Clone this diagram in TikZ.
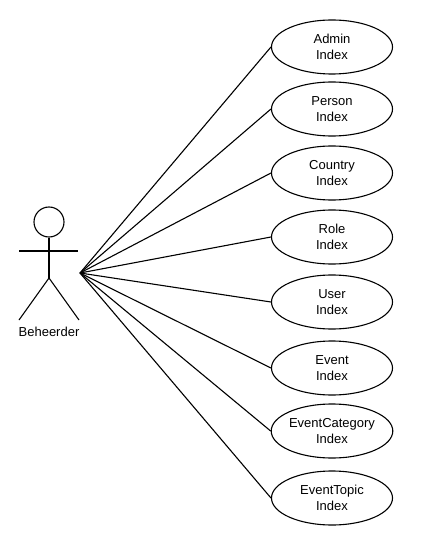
\documentclass[tikz,border=0pt]{standalone}
\usepackage{fontspec}
\setmainfont{Liberation Sans}
\usetikzlibrary{shapes.geometric}
\begin{document}
\begin{tikzpicture}[x=1pt,y=-1pt,
  usecase/.style={draw,ellipse,line width=1.1pt,minimum width=121pt,minimum height=54pt,inner sep=0pt,align=center,font=\fontsize{13}{16.5}\selectfont},
  stick/.style={line width=1.1pt},
  conn/.style={line width=1.1pt}]
\useasboundingbox (0,0) rectangle (430,545);
% actor
\node[draw,circle,stick,minimum size=30pt,inner sep=0pt] (head) at (49,222) {};
\coordinate (hip) at (49,278);
\coordinate (larm) at (19,251);
\coordinate (rarm) at (78,251);
\coordinate (lfoot) at (19,320);
\coordinate (rfoot) at (79,320);
\draw[stick] (head.south) -- (hip);
\draw[stick] (larm) -- (rarm);
\draw[stick] (lfoot) -- (hip) -- (rfoot);
\node[font=\fontsize{13}{16}\selectfont,inner sep=0pt] (lbl) at (49,332) {Beheerder};
\coordinate (hub) at (80,273);
% use cases
\node[usecase] (u1) at (332,47) {Admin\\Index};
\node[usecase] (u2) at (332,109) {Person\\Index};
\node[usecase] (u3) at (332,173) {Country\\Index};
\node[usecase] (u4) at (332,237) {Role\\Index};
\node[usecase] (u5) at (332,302) {User\\Index};
\node[usecase] (u6) at (332,368) {Event\\Index};
\node[usecase] (u7) at (332,431) {EventCategory\\Index};
\node[usecase] (u8) at (332,498) {EventTopic\\Index};
\foreach \u in {u1,u2,u3,u4,u5,u6,u7,u8}
  \draw[conn] (hub) -- (\u.west);
\end{tikzpicture}
\end{document}
